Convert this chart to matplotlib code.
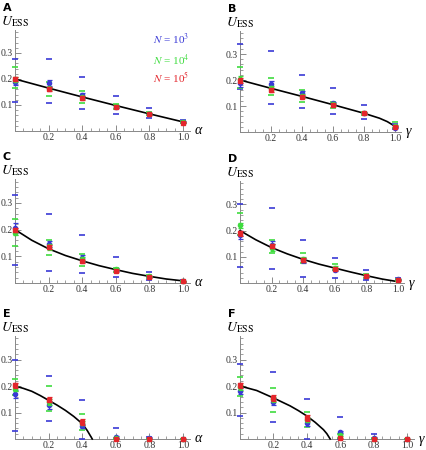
import matplotlib
matplotlib.use("Agg")
import matplotlib.pyplot as plt
from matplotlib.ticker import MultipleLocator, FixedLocator

plt.rcParams['mathtext.fontset'] = 'stix'
plt.rcParams['font.family'] = ['Liberation Serif', 'DejaVu Serif']

x_vals = [0.0, 0.2, 0.4, 0.6, 0.8, 1.0]
series_labels = ["$N$ = 10$^3$", "$N$ = 10$^4$", "$N$ = 10$^5$"]
panel_letters = ["A", "B", "C", "D", "E", "F"]
x_names = ["α", "γ", "α", "γ", "α", "γ"]

# ---- Panel A ----
A_b_mean = [0.187, 0.185, 0.138, 0.094, 0.066, 0.034]
A_b_se = [0.010, 0.012, 0.010, 0.006, 0.004, 0.003]
A_b_lo = [0.110, 0.108, 0.083, 0.064, 0.050, 0.030]
A_b_hi = [0.276, 0.276, 0.209, 0.133, 0.090, 0.042]
A_g_mean = [0.198, 0.165, 0.130, 0.095, 0.066, 0.034]
A_g_se = [0.008, 0.006, 0.005, 0.004, 0.003, 0.002]
A_g_lo = [0.165, 0.136, 0.108, 0.085, 0.060, 0.030]
A_g_hi = [0.245, 0.190, 0.152, 0.104, 0.072, 0.038]
A_r_mean = [0.200, 0.162, 0.127, 0.094, 0.065, 0.032]
A_r_se = [0.008, 0.007, 0.006, 0.004, 0.003, 0.003]
A_curve_x = [0.0, 0.2, 0.4, 0.6, 0.8, 1.0]
A_curve_y = [0.200, 0.165, 0.131, 0.098, 0.066, 0.035]

# ---- Panel B ----
B_b_mean = [0.187, 0.183, 0.149, 0.110, 0.072, 0.017]
B_b_se = [0.012, 0.015, 0.010, 0.006, 0.004, 0.003]
B_b_lo = [0.165, 0.109, 0.091, 0.069, 0.049, 0.012]
B_b_hi = [0.338, 0.313, 0.219, 0.171, 0.104, 0.030]
B_g_mean = [0.205, 0.170, 0.140, 0.106, 0.072, 0.025]
B_g_se = [0.010, 0.008, 0.006, 0.005, 0.004, 0.003]
B_g_lo = [0.168, 0.142, 0.117, 0.094, 0.065, 0.014]
B_g_hi = [0.251, 0.206, 0.162, 0.117, 0.078, 0.037]
B_r_mean = [0.197, 0.163, 0.136, 0.104, 0.072, 0.021]
B_r_se = [0.010, 0.008, 0.006, 0.004, 0.003, 0.003]
B_curve_x = [0.0, 0.2, 0.4, 0.6, 0.8, 0.9, 0.95, 1.0]
B_curve_y = [0.200, 0.168, 0.137, 0.105, 0.072, 0.053, 0.040, 0.022]

# ---- Panel C ----
C_b_mean = [0.206, 0.146, 0.094, 0.050, 0.024, 0.007]
C_b_se = [0.020, 0.012, 0.010, 0.005, 0.003, 0.002]
C_b_lo = [0.066, 0.046, 0.039, 0.0225, 0.0125, 0.004]
C_b_hi = [0.331, 0.260, 0.181, 0.096, 0.040, 0.010]
C_g_mean = [0.188, 0.135, 0.090, 0.052, 0.025, 0.007]
C_g_se = [0.010, 0.010, 0.006, 0.005, 0.003, 0.002]
C_g_lo = [0.1375, 0.106, 0.0625, 0.040, 0.018, 0.005]
C_g_hi = [0.241, 0.1625, 0.109, 0.058, 0.030, 0.009]
C_r_mean = [0.199, 0.134, 0.081, 0.046, 0.022, 0.006]
C_r_se = [0.008, 0.007, 0.006, 0.004, 0.003, 0.002]
C_curve_x = [0.0, 0.1, 0.2, 0.3, 0.4, 0.5, 0.6, 0.7, 0.8, 0.9, 1.0]
C_curve_y = [0.200, 0.160, 0.128, 0.103, 0.083, 0.065, 0.050, 0.036, 0.025, 0.015, 0.008]

# ---- Panel D ----
D_b_mean = [0.183, 0.145, 0.087, 0.050, 0.024, 0.014]
D_b_se = [0.015, 0.015, 0.010, 0.005, 0.003, 0.003]
D_b_lo = [0.062, 0.055, 0.024, 0.020, 0.011, 0.010]
D_b_hi = [0.300, 0.285, 0.164, 0.094, 0.049, 0.018]
D_g_mean = [0.220, 0.135, 0.090, 0.058, 0.028, 0.012]
D_g_se = [0.010, 0.012, 0.008, 0.005, 0.003, 0.002]
D_g_lo = [0.185, 0.113, 0.075, 0.049, 0.020, 0.008]
D_g_hi = [0.269, 0.165, 0.113, 0.072, 0.035, 0.016]
D_r_mean = [0.190, 0.140, 0.087, 0.055, 0.026, 0.011]
D_r_se = [0.010, 0.008, 0.007, 0.004, 0.003, 0.002]
D_curve_x = [0.0, 0.1, 0.2, 0.3, 0.4, 0.5, 0.6, 0.7, 0.8, 0.9, 1.0]
D_curve_y = [0.200, 0.165, 0.135, 0.111, 0.090, 0.072, 0.057, 0.042, 0.028, 0.015, 0.005]

# ---- Panel E ----
E_b_mean = [0.170, 0.127, 0.049, 0.008, 0.005, 0.000]
E_b_se = [0.015, 0.012, 0.008, 0.004, 0.002, 0.000]
E_b_lo = [0.029, 0.067, 0.000, 0.000, 0.000, 0.000]
E_b_hi = [0.300, 0.238, 0.146, 0.042, 0.008, 0.000]
E_g_mean = [0.190, 0.140, 0.060, 0.002, 0.000, 0.000]
E_g_se = [0.010, 0.010, 0.008, 0.002, 0.000, 0.000]
E_g_lo = [0.165, 0.104, 0.033, 0.000, 0.000, 0.000]
E_g_hi = [0.225, 0.200, 0.096, 0.005, 0.000, 0.000]
E_r_mean = [0.202, 0.148, 0.064, 0.001, 0.000, 0.000]
E_r_se = [0.008, 0.010, 0.010, 0.001, 0.000, 0.000]
E_curve_x = [0.0, 0.05, 0.1, 0.15, 0.2, 0.25, 0.3, 0.35, 0.4, 0.43, 0.46]
E_curve_y = [0.200, 0.191, 0.180, 0.164, 0.146, 0.128, 0.108, 0.085, 0.058, 0.032, 0.000]

# ---- Panel F ----
F_b_mean = [0.181, 0.140, 0.060, 0.026, 0.004, 0.000]
F_b_se = [0.012, 0.012, 0.010, 0.005, 0.002, 0.000]
F_b_lo = [0.086, 0.064, 0.000, 0.000, 0.000, 0.000]
F_b_hi = [0.284, 0.253, 0.152, 0.083, 0.019, 0.000]
F_g_mean = [0.195, 0.150, 0.072, 0.014, 0.001, 0.000]
F_g_se = [0.010, 0.010, 0.008, 0.004, 0.001, 0.000]
F_g_lo = [0.161, 0.102, 0.045, 0.005, 0.000, 0.000]
F_g_hi = [0.234, 0.192, 0.102, 0.020, 0.002, 0.000]
F_r_mean = [0.202, 0.155, 0.079, 0.002, 0.000, 0.000]
F_r_se = [0.010, 0.010, 0.012, 0.002, 0.000, 0.000]
F_curve_x = [0.0, 0.1, 0.2, 0.3, 0.35, 0.4, 0.45, 0.5, 0.52, 0.54]
F_curve_y = [0.200, 0.183, 0.155, 0.125, 0.107, 0.087, 0.063, 0.035, 0.020, 0.000]

panels = [
    (A_b_mean, A_b_se, A_b_lo, A_b_hi, A_g_mean, A_g_se, A_g_lo, A_g_hi, A_r_mean, A_r_se, A_curve_x, A_curve_y),
    (B_b_mean, B_b_se, B_b_lo, B_b_hi, B_g_mean, B_g_se, B_g_lo, B_g_hi, B_r_mean, B_r_se, B_curve_x, B_curve_y),
    (C_b_mean, C_b_se, C_b_lo, C_b_hi, C_g_mean, C_g_se, C_g_lo, C_g_hi, C_r_mean, C_r_se, C_curve_x, C_curve_y),
    (D_b_mean, D_b_se, D_b_lo, D_b_hi, D_g_mean, D_g_se, D_g_lo, D_g_hi, D_r_mean, D_r_se, D_curve_x, D_curve_y),
    (E_b_mean, E_b_se, E_b_lo, E_b_hi, E_g_mean, E_g_se, E_g_lo, E_g_hi, E_r_mean, E_r_se, E_curve_x, E_curve_y),
    (F_b_mean, F_b_se, F_b_lo, F_b_hi, F_g_mean, F_g_se, F_g_lo, F_g_hi, F_r_mean, F_r_se, F_curve_x, F_curve_y),
]

# layout: origin pixel (x, y from top), x px per unit, y px per unit
geom = [
    (15, 131, 168, 260),
    (240, 132, 155, 260),
    (15, 283, 168, 267),
    (240, 283, 158, 262),
    (15, 439, 168, 265),
    (240, 439, 167, 265),
]

W, H = 427, 450
BLUE = "#3a3ad6"
GREEN = "#3fdc3f"
RED = "#e3262c"
XMAX, YMAX = 1.04, 0.39

fig = plt.figure(figsize=(W / 100, H / 100), dpi=100)

for i, (data, (ox, oy, xs, ys)) in enumerate(zip(panels, geom)):
    (bm, bse, blo, bhi, gm, gse, glo, ghi, rm, rse, cx, cy) = data
    ax = fig.add_axes([ox / W, (H - oy) / H, xs * XMAX / W, ys * YMAX / H])
    ax.set_xlim(0, XMAX)
    ax.set_ylim(0, YMAX)
    for s in ["top", "right"]:
        ax.spines[s].set_visible(False)
    for s in ["left", "bottom"]:
        ax.spines[s].set_color("#888888")
        ax.spines[s].set_linewidth(0.7)
    ax.xaxis.set_major_locator(FixedLocator([0.2, 0.4, 0.6, 0.8, 1.0]))
    ax.xaxis.set_minor_locator(MultipleLocator(0.05))
    ax.yaxis.set_major_locator(FixedLocator([0.1, 0.2, 0.3]))
    ax.yaxis.set_minor_locator(MultipleLocator(0.02))
    ax.set_xticklabels(["0.2", "0.4", "0.6", "0.8", "1.0"])
    ax.set_yticklabels(["0.1", "0.2", "0.3"])
    ax.tick_params(which="major", direction="in", length=4, width=0.6, color="#777777",
                   labelsize=7, pad=1.5, labelcolor="#333333")
    ax.tick_params(which="minor", direction="in", length=2, width=0.5, color="#777777")
    ax.patch.set_alpha(0)

    ax.plot(cx, cy, color="black", lw=1.2, zorder=3, clip_on=False)

    # blue
    ax.plot(x_vals, blo, ls="none", marker="_", ms=5, mew=1.2, color=BLUE, zorder=4, clip_on=False)
    ax.plot(x_vals, bhi, ls="none", marker="_", ms=5, mew=1.2, color=BLUE, zorder=4, clip_on=False)
    ax.errorbar(x_vals, bm, yerr=bse, fmt="o", ms=3.0, color=BLUE, ecolor=BLUE,
                elinewidth=0.9, capsize=1.8, capthick=0.9, zorder=5, clip_on=False)
    # green
    ax.plot(x_vals, glo, ls="none", marker="_", ms=5, mew=1.2, color=GREEN, zorder=4, clip_on=False)
    ax.plot(x_vals, ghi, ls="none", marker="_", ms=5, mew=1.2, color=GREEN, zorder=4, clip_on=False)
    ax.errorbar(x_vals, gm, yerr=gse, fmt="o", ms=3.0, color=GREEN, ecolor=GREEN,
                elinewidth=0.9, capsize=1.8, capthick=0.9, zorder=6, clip_on=False)
    # red
    ax.errorbar(x_vals, rm, yerr=rse, fmt="s", ms=3.4, color=RED, ecolor=RED,
                elinewidth=0.9, capsize=1.8, capthick=0.9, zorder=7, clip_on=False)
    for art in ax.get_children():
        try:
            art.set_clip_on(False)
        except Exception:
            pass

    ax.text(0.0, YMAX + 0.017, "$U_{\\mathrm{ESS}}$", fontsize=10, ha="center", va="baseline",
            clip_on=False)
    ax.text(XMAX + 0.03, 0.0, x_names[i], fontsize=10, style="italic", ha="left", va="center",
            clip_on=False)
    fig.text((ox - 12) / W, 1 - (oy - ys * YMAX - 22) / H, panel_letters[i],
             fontsize=8, fontweight="bold", family="DejaVu Sans", ha="left", va="center")

    if i == 0:
        for lab, col, yy in zip(series_labels, [BLUE, GREEN, RED], [0.354, 0.272, 0.207]):
            ax.text(0.82, yy, lab, color=col, fontsize=8, ha="left", va="center")

fig.savefig("out.png", dpi=100)
